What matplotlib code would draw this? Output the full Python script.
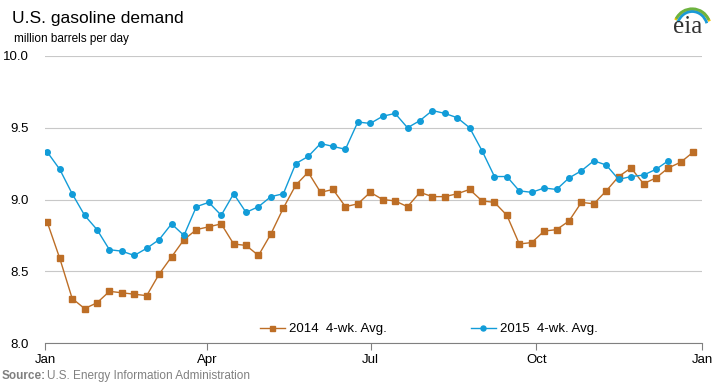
import numpy as np
import matplotlib.pyplot as plt
from matplotlib.patches import Arc

# weekly 4-week averages, million barrels per day
gas_2014 = [8.84, 8.59, 8.31, 8.24, 8.28, 8.36, 8.35, 8.34, 8.33, 8.48,
            8.60, 8.72, 8.79, 8.81, 8.83, 8.69, 8.68, 8.61, 8.76, 8.94,
            9.10, 9.19, 9.05, 9.07, 8.95, 8.97, 9.05, 9.00, 8.99, 8.95,
            9.05, 9.02, 9.02, 9.04, 9.07, 8.99, 8.98, 8.89, 8.69, 8.70,
            8.78, 8.79, 8.85, 8.98, 8.97, 9.06, 9.16, 9.22, 9.11, 9.15,
            9.22, 9.26, 9.33]
gas_2015 = [9.33, 9.21, 9.04, 8.89, 8.79, 8.65, 8.64, 8.61, 8.66, 8.72,
            8.83, 8.75, 8.95, 8.98, 8.89, 9.04, 8.91, 8.95, 9.02, 9.04,
            9.25, 9.30, 9.39, 9.37, 9.35, 9.54, 9.53, 9.58, 9.60, 9.50,
            9.55, 9.62, 9.60, 9.57, 9.50, 9.34, 9.16, 9.16, 9.06, 9.05,
            9.08, 9.07, 9.15, 9.20, 9.27, 9.24, 9.14, 9.16, 9.17, 9.21,
            9.27]
month_labels = ['Jan', 'Apr', 'Jul', 'Oct', 'Jan']
month_days = [0, 90, 181, 273, 365]
y_ticks = [8.0, 8.5, 9.0, 9.5, 10.0]

# week index -> day of year
day14 = 1.3 + np.arange(len(gas_2014)) * 6.9
day15 = 1.3 + np.arange(len(gas_2015)) * 6.9

c14 = '#BD6E26'
c15 = '#129CD8'

plt.rcParams['font.family'] = ['Liberation Sans', 'DejaVu Sans']

fig = plt.figure(figsize=(7.19, 3.86), dpi=100)
ax = fig.add_axes([45/719, 1-343/386, 657/719, 287/386])

ax.plot(day14, gas_2014, c=c14, lw=1.0, marker='s', ms=4,
        label='2014  4-wk. Avg.')
ax.plot(day15, gas_2015, c=c15, lw=1.0, marker='o', ms=4,
        label='2015  4-wk. Avg.')

ax.set_xlim(0, 365)
ax.set_ylim(8, 10)
ax.set_xticks(month_days)
ax.set_xticklabels(month_labels, fontsize=9.5)
ax.set_yticks(y_ticks)
ax.set_yticklabels(['%.1f' % v for v in y_ticks], fontsize=9.5)

ax.grid(axis='y', color='#c8c8c8', lw=0.8)
ax.set_axisbelow(True)
for s in ['top', 'right', 'left']:
  ax.spines[s].set_visible(False)
ax.spines['bottom'].set_color('#808080')
ax.tick_params(axis='y', length=0, pad=12)
ax.tick_params(axis='x', length=5, color='#808080', pad=3, direction='out')

ax.legend(loc='lower center', ncol=2, frameon=False, fontsize=9.5,
          handlelength=1.9, columnspacing=6.4, bbox_to_anchor=(0.584, -0.015),
          handletextpad=0.3, markerscale=0.9)

fig.text(12/719, 1-18/386, 'U.S. gasoline demand', fontsize=12.5, va='center')
fig.text(14/719, 1-39/386, 'million barrels per day', fontsize=8.5, va='center')
fig.text(2/719, 1-376/386, 'Source:', fontsize=8.5, va='center',
         color='#808080', weight='bold')
fig.text(47/719, 1-376/386, 'U.S. Energy Information Administration',
         fontsize=8.5, va='center', color='#808080')

# eia logo
fig.text(688/719, 1-27/386, 'eia', fontsize=18, ha='center', va='center',
         family='Liberation Serif', color='#333333')
lax = fig.add_axes([668/719, 1-36/386, 44/719, 34/386])
lax.set_xlim(0, 1)
lax.set_ylim(0, 1)
lax.axis('off')
for w, col, dy in [(0.85, '#F2C200', -0.05), (0.8, '#6DB33F', 0.0), (0.7, '#1A9AD6', -0.08)]:
  lax.add_patch(Arc((0.55, 0.3 + dy), w, 1.0, theta1=25, theta2=150,
                    color=col, lw=2))

plt.savefig('out.png', dpi=100)
